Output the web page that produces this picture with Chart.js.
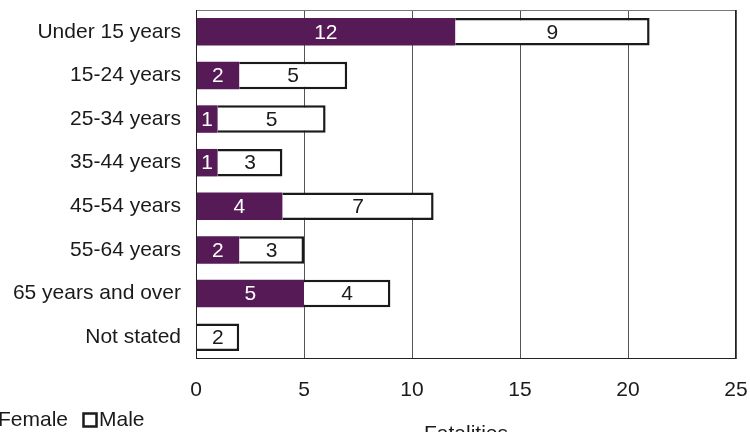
<!DOCTYPE html>
<html>
<head>
<meta charset="utf-8">
<script src="https://cdn.jsdelivr.net/npm/chart.js@4/dist/chart.umd.min.js"></script>
<style>
html, body { margin: 0; padding: 0; overflow: hidden; background: #fff; }
canvas { display: block; }
</style>
</head>
<body>
<canvas id="c" width="750" height="450"></canvas>
<script>
const categories = ['Under 15 years', '15-24 years', '25-34 years', '35-44 years', '45-54 years', '55-64 years', '65 years and over', 'Not stated'];
const female = [12, 2, 1, 1, 4, 2, 5, 0];
const male = [9, 5, 5, 3, 7, 3, 4, 2];
const xTicks = [0, 5, 10, 15, 20, 25];

const FONT = '"Liberation Sans", Arial, sans-serif';
const SIZE = 21;
const PURPLE = '#561B56';
const INK = '#1a1a1a';

// Value labels centred inside each bar segment
const barLabels = {
  id: 'barLabels',
  afterDatasetsDraw(chart) {
    const ctx = chart.ctx;
    ctx.save();
    ctx.font = SIZE + 'px ' + FONT;
    ctx.textAlign = 'center';
    ctx.textBaseline = 'middle';
    chart.data.datasets.forEach((ds, di) => {
      const meta = chart.getDatasetMeta(di);
      meta.data.forEach((bar, i) => {
        const v = ds.data[i];
        if (!v) return;
        const p = bar.getProps(['x', 'y', 'base'], true);
        ctx.fillStyle = di === 0 ? '#ffffff' : INK;
        ctx.fillText(String(v), (p.x + p.base) / 2, p.y + 1);
      });
    });
    ctx.restore();
  }
};

// Frame around the plotting area
const plotFrame = {
  id: 'plotFrame',
  afterDatasetsDraw(chart) {
    const a = chart.chartArea, ctx = chart.ctx;
    ctx.save();
    ctx.lineWidth = 1;
    ctx.strokeStyle = '#777777';
    ctx.beginPath();
    ctx.moveTo(a.left, a.top + 0.5);
    ctx.lineTo(a.right, a.top + 0.5);
    ctx.stroke();
    ctx.strokeStyle = '#222222';
    ctx.beginPath();
    ctx.moveTo(a.left + 0.5, a.top);
    ctx.lineTo(a.left + 0.5, a.bottom);
    ctx.moveTo(a.left, a.bottom - 0.5);
    ctx.lineTo(a.right, a.bottom - 0.5);
    ctx.moveTo(a.right - 0.5, a.top);
    ctx.lineTo(a.right - 0.5, a.bottom);
    ctx.stroke();
    ctx.restore();
  }
};

// Legend along the bottom-left edge
const bottomLegend = {
  id: 'bottomLegend',
  afterDraw(chart) {
    const ctx = chart.ctx;
    const y = 420;
    const items = chart.data.datasets;
    ctx.save();
    ctx.font = SIZE + 'px ' + FONT;
    ctx.textBaseline = 'middle';
    ctx.textAlign = 'left';
    ctx.fillStyle = PURPLE;
    ctx.fillRect(-20, y - 7, 14, 14);
    ctx.fillStyle = INK;
    ctx.fillText(items[0].label, -2, y);
    ctx.fillStyle = '#ffffff';
    ctx.fillRect(83.5, y - 6.5, 13, 13);
    ctx.strokeStyle = INK;
    ctx.lineWidth = 2.5;
    ctx.strokeRect(83.5, y - 6.5, 13, 13);
    ctx.fillStyle = INK;
    ctx.fillText(items[1].label, 99, y);
    ctx.restore();
  }
};

new Chart(document.getElementById('c'), {
  type: 'bar',
  data: {
    labels: categories,
    datasets: [
      { label: 'Female', data: female, backgroundColor: PURPLE, borderWidth: 0 },
      { label: 'Male', data: male, backgroundColor: '#ffffff', borderColor: INK, borderWidth: 2.5 }
    ]
  },
  options: {
    indexAxis: 'y',
    responsive: false,
    animation: false,
    layout: { padding: { top: 10, right: 14, left: 0, bottom: 0 } },
    datasets: { bar: { categoryPercentage: 1, barPercentage: 0.63 } },
    plugins: { legend: { display: false }, tooltip: { enabled: false } },
    scales: {
      x: {
        stacked: true,
        min: 0,
        max: 25,
        afterBuildTicks(scale) { scale.ticks = xTicks.map(v => ({ value: v })); },
        afterFit(scale) { scale.height = 91; },
        grid: { color: '#555555', lineWidth: 1, drawTicks: true, tickLength: 19, tickColor: 'rgba(0,0,0,0)' },
        border: { display: false },
        ticks: { padding: 0, color: INK, font: { family: FONT, size: SIZE }, maxRotation: 0 },
        title: { display: true, text: 'Fatalities', color: INK, font: { family: FONT, size: SIZE }, padding: { top: 0, bottom: 3 } }
      },
      y: {
        stacked: true,
        afterFit(scale) { scale.width = 196; },
        grid: { display: true, color: 'rgba(0,0,0,0)', drawTicks: true, tickLength: 18, tickColor: 'rgba(0,0,0,0)' },
        border: { display: false },
        ticks: { padding: -3, color: INK, font: { family: FONT, size: SIZE }, autoSkip: false }
      }
    }
  },
  plugins: [barLabels, plotFrame, bottomLegend]
});
</script>
</body>
</html>
